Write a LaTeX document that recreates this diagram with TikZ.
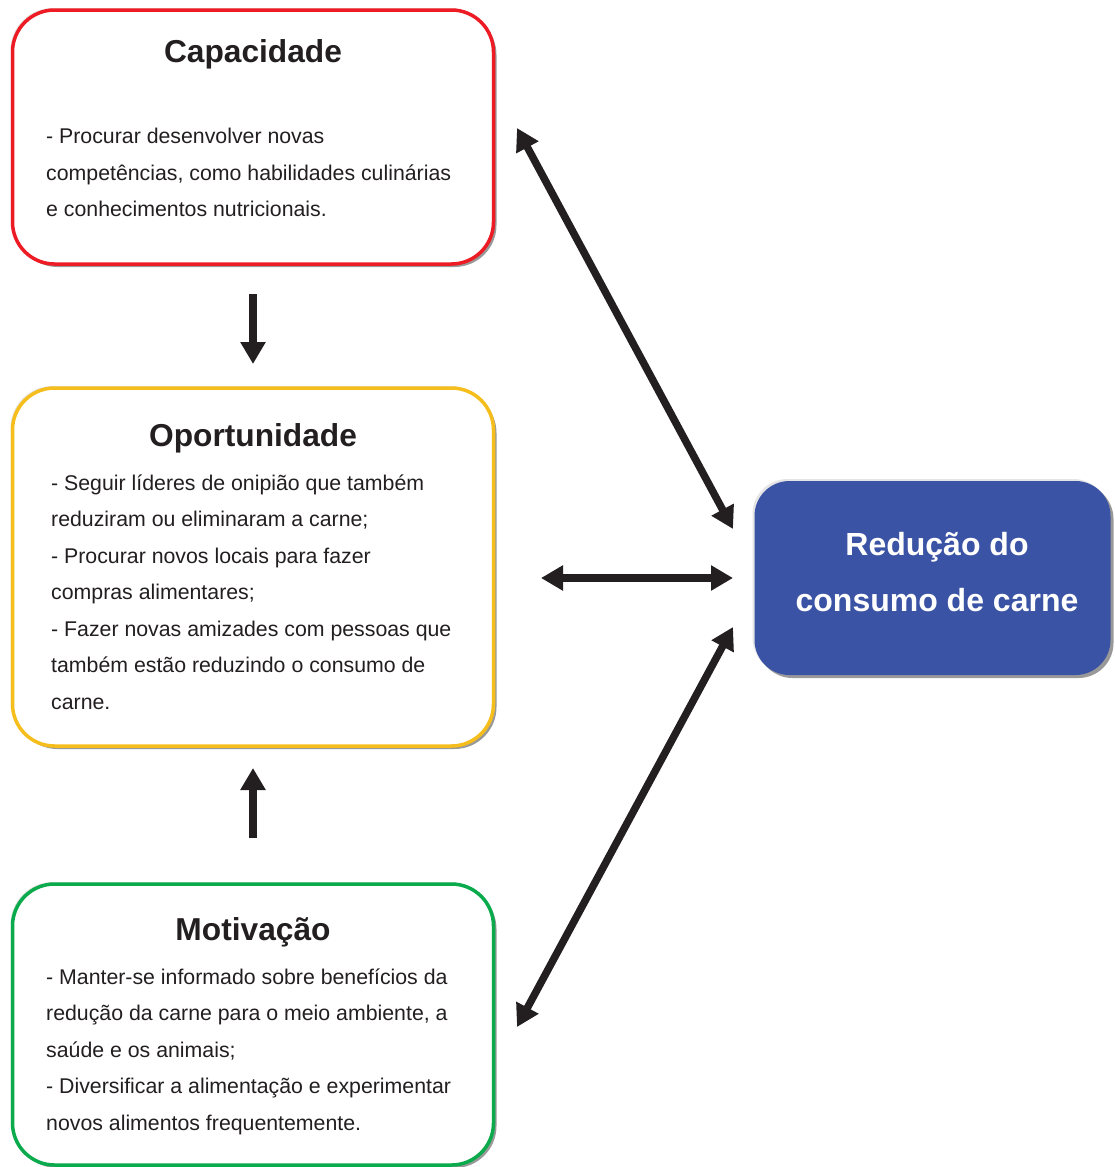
\documentclass[tikz,border=0pt]{standalone}
\usepackage{fontspec}
\setmainfont{Liberation Sans}
\usetikzlibrary{arrows.meta,shadows}
\definecolor{txt}{HTML}{231F20}
\definecolor{capred}{HTML}{ED1C24}
\definecolor{opyellow}{HTML}{F6BE1C}
\definecolor{motgreen}{HTML}{0BAA4D}
\definecolor{redblue}{HTML}{3A53A4}
\tikzset{
  box/.style={draw, line width=3.5pt, fill=white, inner sep=0,
    rounded corners=42pt,
    general shadow={shadow xshift=-2pt, shadow yshift=2pt, fill=black!10},
    general shadow={shadow xshift=3pt, shadow yshift=-3pt, fill=black!40}},
  ttl/.style={font=\bfseries\fontsize{31.7}{36}\selectfont, text=txt, anchor=base, inner sep=0},
  body/.style={font=\fontsize{21.3}{36.5}\selectfont, text=txt, align=left, anchor=base west, inner sep=0},
  arr/.style={line width=7.5pt, draw=txt, {Triangle[length=22pt,width=24pt]}-{Triangle[length=22pt,width=24pt]}},
  arr1/.style={line width=7.5pt, draw=txt, -{Triangle[length=22pt,width=24pt]}}
}
\begin{document}
\begin{tikzpicture}[x=1pt,y=-1pt]
\useasboundingbox (0,0) rectangle (1115,1167);
% boxes
\node[box, draw=capred, minimum width=481pt, minimum height=254pt] (cap) at (253,137) {};
\node[box, draw=opyellow, minimum width=481pt, minimum height=358pt] (opo) at (253,567) {};
\node[box, draw=motgreen, minimum width=481pt, minimum height=281pt] (mot) at (253,1024.5) {};
\node[draw=none, fill=redblue, rounded corners=35pt, minimum width=356pt, minimum height=194pt,
  general shadow={shadow xshift=-2pt, shadow yshift=2pt, fill=black!10},
  general shadow={shadow xshift=3pt, shadow yshift=-3pt, fill=black!40}] (red) at (932.5,578) {};
% titles
\node[ttl] (capt) at (253,62) {Capacidade};
\node[ttl] (opot) at (253,446) {Oportunidade};
\node[ttl] (mott) at (253,940) {Motivação};
\node[ttl, text=white, font=\bfseries\fontsize{32}{36}\selectfont] (redt1) at (937,555) {Redução do};
\node[ttl, text=white, font=\bfseries\fontsize{32}{36}\selectfont] (redt2) at (937,611) {consumo de carne};
% bodies (anchor = baseline of last line)
\node[body] (capb) at (46,216.5) {- Procurar desenvolver novas\\competências, como habilidades culinárias\\e conhecimentos nutricionais.};
\node[body] (opob) at (51,709) {- Seguir líderes de onipião que também\\reduziram ou eliminaram a carne;\\- Procurar novos locais para fazer\\compras alimentares;\\- Fazer novas amizades com pessoas que\\também estão reduzindo o consumo de\\carne.};
\node[body] (motb) at (46,1130) {- Manter-se informado sobre benefícios da\\redução da carne para o meio ambiente, a\\saúde e os animais;\\- Diversificar a alimentação e experimentar\\novos alimentos frequentemente.};
% arrow endpoints
\coordinate (d0) at (253,294); \coordinate (d1) at (253,364);
\coordinate (u0) at (253,838); \coordinate (u1) at (253,768);
\coordinate (h0) at (541,578); \coordinate (h1) at (733,578);
\coordinate (a0) at (517,128); \coordinate (a1) at (733,529);
\coordinate (b0) at (733,627); \coordinate (b1) at (517,1027);
\draw[arr1] (d0) -- (d1);
\draw[arr1] (u0) -- (u1);
\draw[arr] (h0) -- (h1);
\draw[arr] (a0) -- (a1);
\draw[arr] (b0) -- (b1);
\end{tikzpicture}
\end{document}
